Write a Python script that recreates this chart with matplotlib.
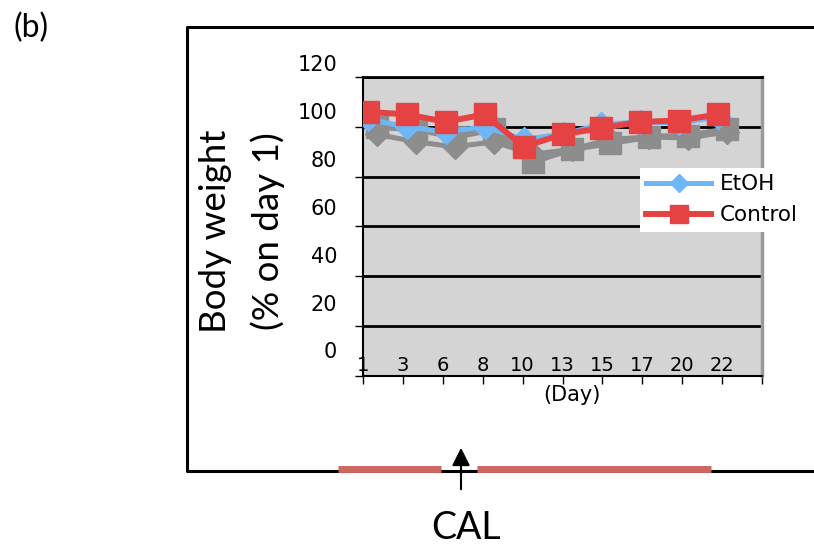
import numpy as np
import matplotlib.pyplot as plt
import matplotlib.transforms as mtransforms

# Data
days = ["1", "3", "6", "8", "10", "13", "15", "17", "20", "22"]
etoh = [103, 100, 98, 100, 95, 97, 101, 102, 101.5, 104]
control = [106, 105, 102, 105, 92, 97, 99.5, 102, 102.5, 105]
y_ticks = [0, 20, 40, 60, 80, 100, 120]

# CAL treatment periods, drawn on the pixel overlay
cal_periods = [(338, 441), (477, 711)]

W, H = 814, 546
fig = plt.figure(figsize=(W / 100, H / 100), dpi=100)

# overlay in pixel units for the outer frame and annotations
bg = fig.add_axes([0, 0, 1, 1], zorder=-1)
bg.set_xlim(0, W)
bg.set_ylim(H, 0)
bg.axis("off")

# main chart
ax = fig.add_axes([363 / W, (H - 376) / H, 399 / W, 299 / H])
ax.set_facecolor("#d4d4d4")
ax.set_xlim(0, 10)
ax.set_ylim(0, 120)

xs = np.arange(len(days)) * 0.975 + 0.125

# grey drop shadows
shadow = mtransforms.offset_copy(ax.transData, fig=fig, x=9, y=-15, units="dots")
ax.plot(xs, etoh, color="#8d8d8d", lw=3.6, marker="D", ms=12, transform=shadow, zorder=2)
ax.plot(xs, control, color="#8d8d8d", lw=4.3, marker="s", ms=16, transform=shadow, zorder=2)

l1, = ax.plot(xs, etoh, color="#6db6f7", lw=3.6, marker="D", ms=12, label="EtOH", zorder=3)
l2, = ax.plot(xs, control, color="#e54343", lw=4.3, marker="s", ms=16, label="Control", zorder=4)

# gridlines
ax.set_yticks(y_ticks)
ax.yaxis.grid(True, color="black", lw=2)
ax.set_axisbelow(True)
ax.set_xticks(range(11))
ax.tick_params(axis="both", direction="out", length=6, width=1,
               labelleft=False, labelbottom=False)

ax.spines["left"].set_linewidth(1.5)
ax.spines["top"].set_linewidth(2)
ax.spines["bottom"].set_linewidth(1.5)
ax.spines["right"].set_color("#9a9a9a")
ax.spines["right"].set_linewidth(2.5)

# x tick labels sit inside the plot area
xlab_tr = mtransforms.blended_transform_factory(ax.transData, ax.transAxes)
for i, d in enumerate(days):
    ax.text(i, 0.035, d, transform=xlab_tr, ha="center", va="center", fontsize=14)

# y tick labels, shifted upward as in the original
ylab_tr = mtransforms.blended_transform_factory(ax.transAxes, ax.transData)
for v in y_ticks:
    tr = mtransforms.offset_copy(ylab_tr, fig=fig, y=23.5 - v / 120 * 11.5, units="dots")
    ax.text(-0.065, v, str(v), transform=tr, ha="right", va="center", fontsize=15)

ax.text(0.523, -0.064, "(Day)", transform=ax.transAxes, ha="center", va="center", fontsize=15)

ax.legend(handles=[l1, l2], loc="upper left", bbox_to_anchor=(640 / W, 1 - 168 / H),
          bbox_transform=fig.transFigure, fancybox=False, edgecolor="none",
          framealpha=1, fontsize=15.5, handlelength=3.0, borderpad=0.3,
          labelspacing=0.5, markerscale=0.8, borderaxespad=0, handletextpad=0.4)

# outer frame
bg.plot([W, 187, 187, W], [27, 27, 471, 471], color="black", lw=2.2)

for a, b in cal_periods:
    bg.plot([a, b], [469, 469], color="#cd6560", lw=5, solid_capstyle="butt")

bg.annotate("", xy=(461, 445), xytext=(461, 492),
            arrowprops=dict(arrowstyle="-|>", color="black", lw=1.5, mutation_scale=27))

bg.text(466, 528, "CAL", ha="center", va="center", fontsize=27, family="Lato")
bg.text(31, 28, "(b)", ha="center", va="center", fontsize=23, family="Lato")

bg.text(216, 231, "Body weight", rotation=90, ha="center", va="center",
        fontsize=26.5, family="Lato")
bg.text(268, 231, "(% on day 1)", rotation=90, ha="center", va="center",
        fontsize=26.5, family="Lato")

fig.savefig("out.png", dpi=100)
